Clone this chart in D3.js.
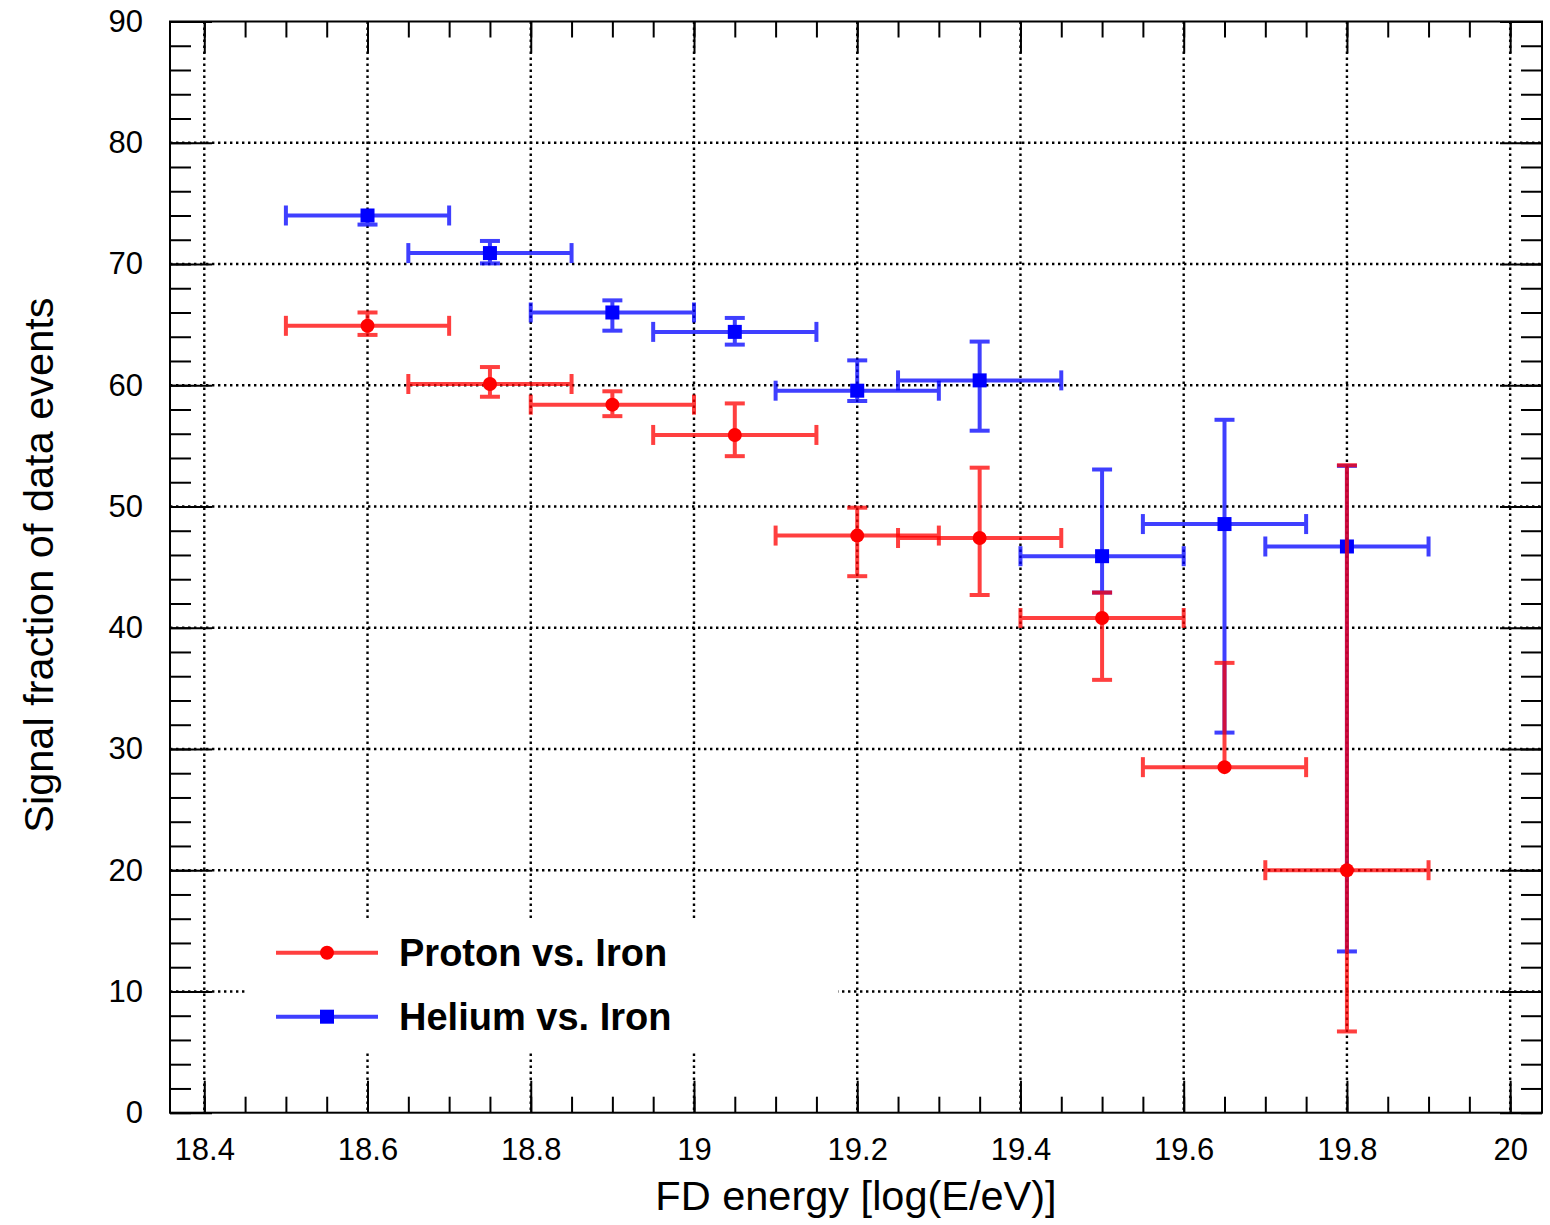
<!DOCTYPE html>
<html>
<head>
<meta charset="utf-8">
<script src="https://cdn.jsdelivr.net/npm/d3@7"></script>
<style>
  html, body { margin: 0; padding: 0; background: #fff; }
  svg { display: block; font-family: "Liberation Sans", Arial, Helvetica, sans-serif; }
</style>
</head>
<body>
<svg id="chart" width="1550" height="1225"></svg>
<script>
// ---------- data ----------
const energy      = [18.6, 18.75, 18.9, 19.05, 19.2, 19.35, 19.5, 19.65, 19.8];
const energyErr   = [0.1, 0.1, 0.1, 0.1, 0.1, 0.1, 0.1, 0.1, 0.1];

const protonFrac    = [64.9, 60.1, 58.4, 55.9, 47.6, 47.4, 40.8, 28.5, 20.0];
const protonErrHigh = [1.1, 1.4, 1.1, 2.6, 2.3, 5.8, 2.1, 8.6, 33.4];
const protonErrLow  = [0.75, 1.05, 0.95, 1.75, 3.35, 4.7, 5.1, 0.0, 13.3];

const heliumFrac    = [74.0, 70.9, 66.0, 64.4, 59.55, 60.4, 45.9, 48.55, 46.7];
const heliumErrHigh = [0.4, 1.0, 1.0, 1.15, 2.5, 3.2, 7.15, 8.6, 6.65];
const heliumErrLow  = [0.75, 0.85, 1.5, 1.05, 0.85, 4.15, 3.0, 17.2, 33.4];

const seriesNames = ["Proton vs. Iron", "Helium vs. Iron"];

const xTicks      = [18.4, 18.6, 18.8, 19.0, 19.2, 19.4, 19.6, 19.8, 20.0];
const xTickLabels = ["18.4", "18.6", "18.8", "19", "19.2", "19.4", "19.6", "19.8", "20"];
const xMinorTicks = d3.range(18.40, 20.001, 0.05).map(v => +v.toFixed(2));
const yTicks      = [0, 10, 20, 30, 40, 50, 60, 70, 80, 90];
const yTickLabels = ["0", "10", "20", "30", "40", "50", "60", "70", "80", "90"];
const yMinorTicks = d3.range(0, 90.001, 2);

const xTitle = "FD energy [log(E/eV)]";
const yTitle = "Signal fraction of data events";

// ---------- layout ----------
const L = 170, R = 1542, T = 21.5, B = 1112.7;
const svg = d3.select("#chart");

const x = d3.scaleLinear().domain([18.358, 20.039]).range([L, R]);
const y = d3.scaleLinear().domain([0, 90]).range([B, T]);

// ---------- grid ----------
const grid = svg.append("g").attr("stroke", "#000").attr("stroke-width", 2.4)
  .attr("stroke-dasharray", "2.4,3.6");
grid.selectAll("line.gx").data(xTicks).join("line")
  .attr("x1", d => x(d)).attr("x2", d => x(d)).attr("y1", T).attr("y2", B);
grid.selectAll("line.gy").data(yTicks.filter(d => d > 0 && d < 90)).join("line")
  .attr("y1", d => y(d)).attr("y2", d => y(d)).attr("x1", L).attr("x2", R);

// ---------- legend background (covers grid) ----------
svg.append("rect").attr("x", 248).attr("y", 918).attr("width", 590).attr("height", 134)
  .attr("fill", "#fff");

// ---------- axes ----------
function styleAxis(g) {
  g.select(".domain").remove();
  g.selectAll(".tick line").attr("stroke", "#000").attr("stroke-width", 2);
  g.selectAll("text").attr("fill", "#000").attr("font-size", 31);
}
// bottom major
svg.append("g").attr("transform", `translate(0,${B})`)
  .call(d3.axisBottom(x).tickValues(xTicks).tickSize(-32).tickPadding(25)
        .tickFormat((d, i) => xTickLabels[i]))
  .call(styleAxis);
// bottom minor
svg.append("g").attr("transform", `translate(0,${B})`)
  .call(d3.axisBottom(x).tickValues(xMinorTicks).tickSize(-16).tickFormat(""))
  .call(styleAxis);
// top major/minor
svg.append("g").attr("transform", `translate(0,${T})`)
  .call(d3.axisTop(x).tickValues(xTicks).tickSize(-32).tickFormat(""))
  .call(styleAxis);
svg.append("g").attr("transform", `translate(0,${T})`)
  .call(d3.axisTop(x).tickValues(xMinorTicks).tickSize(-16).tickFormat(""))
  .call(styleAxis);
// left major
svg.append("g").attr("transform", `translate(${L},0)`)
  .call(d3.axisLeft(y).tickValues(yTicks).tickSize(-42).tickPadding(27)
        .tickFormat((d, i) => yTickLabels[i]))
  .call(styleAxis);
svg.append("g").attr("transform", `translate(${L},0)`)
  .call(d3.axisLeft(y).tickValues(yMinorTicks).tickSize(-21).tickFormat(""))
  .call(styleAxis);
// right
svg.append("g").attr("transform", `translate(${R},0)`)
  .call(d3.axisRight(y).tickValues(yTicks).tickSize(-42).tickFormat(""))
  .call(styleAxis);
svg.append("g").attr("transform", `translate(${R},0)`)
  .call(d3.axisRight(y).tickValues(yMinorTicks).tickSize(-21).tickFormat(""))
  .call(styleAxis);

// frame
svg.append("rect").attr("x", L).attr("y", T).attr("width", R - L).attr("height", B - T)
  .attr("fill", "none").attr("stroke", "#000").attr("stroke-width", 2);

// axis titles
svg.append("text").attr("x", (L + R) / 2).attr("y", 1210).attr("text-anchor", "middle")
  .attr("font-size", 41.5).attr("fill", "#000").text(xTitle);
svg.append("text").attr("transform", `translate(53,${(T + B) / 2 - 2}) rotate(-90)`)
  .attr("text-anchor", "middle").attr("font-size", 41.5).attr("fill", "#000").text(yTitle);

// ---------- data series ----------
const capHalf = 10, lineW = 4, alpha = 0.75, markR = 7, sqHalf = 7;

function drawBars(frac, eHi, eLo, color) {
  const data = energy.map((e, i) => ({ e, ex: energyErr[i], v: frac[i], hi: eHi[i], lo: eLo[i] }));
  const g = svg.append("g");
  data.forEach(d => {
    const pg = g.append("g").attr("opacity", alpha).attr("stroke", color)
      .attr("stroke-width", lineW).attr("fill", "none");
    const cx = x(d.e), cy = y(d.v);
    const xl = x(d.e - d.ex), xr = x(d.e + d.ex);
    const yt = y(d.v + d.hi), yb = y(d.v - d.lo);
    // horizontal bar + caps
    pg.append("line").attr("x1", xl).attr("x2", xr).attr("y1", cy).attr("y2", cy);
    pg.append("line").attr("x1", xl).attr("x2", xl).attr("y1", cy - capHalf).attr("y2", cy + capHalf);
    pg.append("line").attr("x1", xr).attr("x2", xr).attr("y1", cy - capHalf).attr("y2", cy + capHalf);
    // vertical bars (skipped if hidden by marker)
    if (cy - yt > markR) {
      pg.append("line").attr("x1", cx).attr("x2", cx).attr("y1", cy).attr("y2", yt);
      pg.append("line").attr("x1", cx - capHalf).attr("x2", cx + capHalf).attr("y1", yt).attr("y2", yt);
    }
    if (yb - cy > markR) {
      pg.append("line").attr("x1", cx).attr("x2", cx).attr("y1", cy).attr("y2", yb);
      pg.append("line").attr("x1", cx - capHalf).attr("x2", cx + capHalf).attr("y1", yb).attr("y2", yb);
    }
  });
  return data;
}

const heData = drawBars(heliumFrac, heliumErrHigh, heliumErrLow, "#0000ff");
svg.append("g").selectAll("rect").data(heData).join("rect")
  .attr("x", d => x(d.e) - sqHalf).attr("y", d => y(d.v) - sqHalf)
  .attr("width", 2 * sqHalf).attr("height", 2 * sqHalf).attr("fill", "#0000ff");

const prData = drawBars(protonFrac, protonErrHigh, protonErrLow, "#ff0000");
svg.append("g").selectAll("circle").data(prData).join("circle")
  .attr("cx", d => x(d.e)).attr("cy", d => y(d.v)).attr("r", markR).attr("fill", "#ff0000");

// ---------- legend ----------
const legendItems = [
  { name: seriesNames[0], color: "#ff0000", shape: "circle", y: 952.7 },
  { name: seriesNames[1], color: "#0000ff", shape: "square", y: 1016.7 }
];
legendItems.forEach(it => {
  svg.append("line").attr("x1", 276).attr("x2", 378).attr("y1", it.y).attr("y2", it.y)
    .attr("stroke", it.color).attr("stroke-width", lineW).attr("opacity", alpha);
  if (it.shape === "circle") {
    svg.append("circle").attr("cx", 327).attr("cy", it.y).attr("r", markR).attr("fill", it.color);
  } else {
    svg.append("rect").attr("x", 327 - sqHalf).attr("y", it.y - sqHalf)
      .attr("width", 2 * sqHalf).attr("height", 2 * sqHalf).attr("fill", it.color);
  }
  svg.append("text").attr("x", 399).attr("y", it.y + 13.5).attr("font-size", 38)
    .attr("font-weight", "bold").attr("fill", "#000").text(it.name);
});
</script>
</body>
</html>
